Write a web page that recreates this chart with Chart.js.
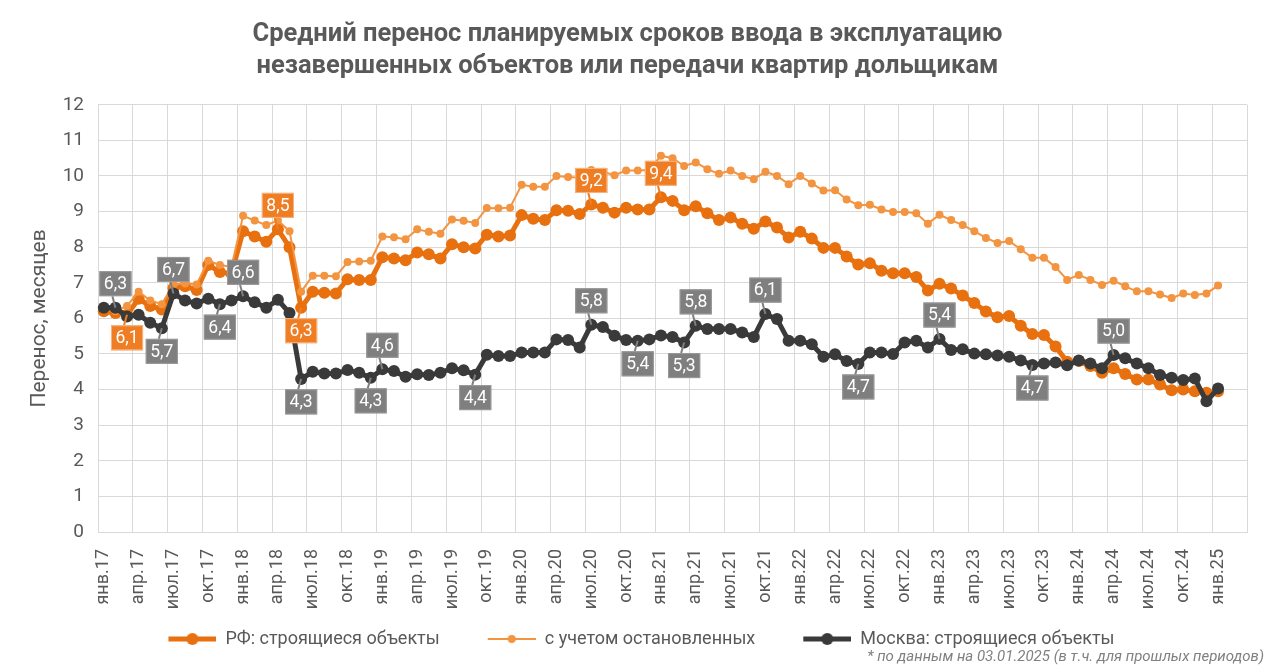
<!DOCTYPE html>
<html lang="ru">
<head>
<meta charset="utf-8">
<title>Средний перенос сроков ввода</title>
<script src="https://cdn.jsdelivr.net/npm/chart.js@4.4.1/dist/chart.umd.min.js"></script>
<style>
  html, body { margin: 0; padding: 0; background: #fff; }
  #wrap { width: 1280px; height: 670px; }
</style>
</head>
<body>
<div id="wrap"><canvas id="chart" width="1280" height="670"></canvas></div>
<script>
// Month names and years for the category axis (янв.17 ... мар.25)
const monthNames = ['янв', 'фев', 'мар', 'апр', 'май', 'июн', 'июл', 'авг', 'сен', 'окт', 'ноя', 'дек'];
const years = ['17', '18', '19', '20', '21', '22', '23', '24', '25'];
const categoryCount = 99; // axis runs two months past the last point

// РФ: строящиеся объекты (янв.17 - янв.25)
const rfValues = [
  6.2, 6.15, 6.1, 6.55, 6.35, 6.25, 6.85, 6.9, 6.8, 7.5, 7.3, 7.25,
  8.45, 8.3, 8.15, 8.5, 8.0, 6.3, 6.75, 6.72, 6.7, 7.1, 7.08, 7.08,
  7.72, 7.68, 7.63, 7.85, 7.8, 7.68, 8.08, 8.0, 7.96, 8.35, 8.3, 8.33,
  8.9, 8.8, 8.76, 9.04, 9.02, 8.93, 9.2, 9.11, 8.97, 9.11, 9.06, 9.06,
  9.4, 9.3, 9.04, 9.15, 8.95, 8.76, 8.83, 8.66, 8.52, 8.72, 8.55, 8.27,
  8.43, 8.24, 7.98, 7.98, 7.74, 7.51, 7.55, 7.34, 7.27, 7.27, 7.16, 6.78,
  6.97, 6.84, 6.64, 6.43, 6.19, 6.03, 6.07, 5.79, 5.56, 5.53, 5.21, 4.78,
  4.8, 4.66, 4.47, 4.6, 4.44, 4.28, 4.28, 4.14, 3.98, 4.0, 3.95, 3.91,
  3.95
];

// с учетом остановленных
const rfStoppedValues = [
  6.25, 6.2, 6.35, 6.75, 6.5, 6.4, 6.95, 6.98, 6.95, 7.62, 7.5, 7.45,
  8.88, 8.75, 8.62, 8.75, 8.45, 6.75, 7.2, 7.2, 7.18, 7.58, 7.6, 7.62,
  8.3, 8.28, 8.22, 8.5, 8.43, 8.38, 8.78, 8.74, 8.68, 9.1, 9.09, 9.11,
  9.75, 9.7, 9.7, 10.0, 9.97, 9.95, 10.17, 10.12, 10.02, 10.15, 10.15, 10.17,
  10.57, 10.5, 10.28, 10.38, 10.19, 10.06, 10.15, 10.0, 9.91, 10.12, 10.0, 9.77,
  10.0, 9.79, 9.59, 9.6, 9.34, 9.18, 9.19, 9.06, 8.99, 8.99, 8.95, 8.66,
  8.91, 8.76, 8.62, 8.45, 8.26, 8.12, 8.17, 7.94, 7.7, 7.7, 7.44, 7.08,
  7.22, 7.08, 6.94, 7.06, 6.9, 6.76, 6.76, 6.67, 6.57, 6.7, 6.66, 6.7,
  6.92
];

// Москва: строящиеся объекты
const moscowValues = [
  6.3, 6.3, 6.05, 6.1, 5.88, 5.72, 6.7, 6.5, 6.42, 6.55, 6.4, 6.5,
  6.62, 6.45, 6.3, 6.52, 6.15, 4.3, 4.5, 4.45, 4.45, 4.55, 4.47, 4.33,
  4.57, 4.52, 4.36, 4.43, 4.41, 4.47, 4.6, 4.54, 4.42, 4.98, 4.94, 4.94,
  5.04, 5.04, 5.04, 5.41, 5.39, 5.18, 5.82, 5.76, 5.51, 5.39, 5.37, 5.41,
  5.52, 5.48, 5.32, 5.79, 5.7, 5.7, 5.7, 5.6, 5.48, 6.12, 5.98, 5.37,
  5.37, 5.27, 4.92, 4.99, 4.8, 4.72, 5.04, 5.04, 5.0, 5.32, 5.37, 5.18,
  5.42, 5.11, 5.13, 5.01, 4.99, 4.96, 4.92, 4.82, 4.69, 4.73, 4.76, 4.68,
  4.82, 4.73, 4.6, 4.97, 4.88, 4.73, 4.6, 4.41, 4.33, 4.27, 4.31, 3.67,
  4.03
];

// Points that carry a value label
const rfLabelAt = [2, 15, 17, 42, 48];
const moscowLabelAt = [1, 5, 6, 10, 12, 17, 23, 24, 32, 42, 46, 50, 51, 57, 65, 72, 80, 87];

const categories = [];
years.forEach(y => monthNames.forEach(m => categories.push(m + '.' + y)));
categories.length = categoryCount;

const COL_RF = '#E8700E';
const COL_STOP = '#F39440';
const COL_MSK = '#3A3A3A';
const TEXT = '#595959';
const GRID = '#D9D9D9';
const FONT = 'Roboto, "Noto Sans", sans-serif';

// label placement: true = above the point
const rfLabelAbove = [false, true, false, true, true];
const moscowLabelAbove = [true, false, true, false, true, false, false, true, false,
  true, false, false, true, true, false, true, false, true];

// Legend icon: a short line with a dot, drawn on a small canvas
function legendIcon(color, lineWidth, radius) {
  const c = document.createElement('canvas');
  c.width = 76;
  c.height = 16;
  const g = c.getContext('2d');
  g.strokeStyle = color;
  g.lineWidth = lineWidth;
  g.beginPath();
  g.moveTo(28, 8);
  g.lineTo(76, 8);
  g.stroke();
  g.fillStyle = color;
  g.beginPath();
  g.arc(52, 8, radius, 0, Math.PI * 2);
  g.fill();
  return c;
}
const legendIcons = [legendIcon(COL_RF, 5, 6), legendIcon(COL_STOP, 2, 4), legendIcon(COL_MSK, 5, 6)];

// Draws the boxed value labels with a short pointer to the point
const calloutPlugin = {
  id: 'callouts',
  afterDatasetsDraw(chart) {
    const ctx = chart.ctx;
    const groups = [
      { ds: 0, at: rfLabelAt, above: rfLabelAbove, values: rfValues, fill: '#EE7D24', stroke: '#F7B583' },
      { ds: 2, at: moscowLabelAt, above: moscowLabelAbove, values: moscowValues, fill: '#7F7F7F', stroke: '#9A9A9A' }
    ];
    ctx.save();
    ctx.font = '17.5px ' + FONT;
    ctx.textAlign = 'center';
    ctx.textBaseline = 'middle';
    groups.forEach(g => {
      const meta = chart.getDatasetMeta(g.ds);
      g.at.forEach((idx, k) => {
        const pt = meta.data[idx];
        const text = g.values[idx].toFixed(1).replace('.', ',');
        const w = ctx.measureText(text).width + 9;
        const h = 25;
        const cy = g.above[k] ? pt.y - 24 : pt.y + 23;
        const edge = g.above[k] ? cy + h / 2 : cy - h / 2;
        // pointer
        ctx.strokeStyle = g.fill;
        ctx.lineWidth = 2;
        ctx.beginPath();
        ctx.moveTo(pt.x - 3, edge);
        ctx.lineTo(pt.x, pt.y);
        ctx.stroke();
        // box
        ctx.fillStyle = g.fill;
        ctx.fillRect(pt.x - w / 2, cy - h / 2, w, h);
        ctx.strokeStyle = g.stroke;
        ctx.lineWidth = 1;
        ctx.strokeRect(pt.x - w / 2 + 0.5, cy - h / 2 + 0.5, w - 1, h - 1);
        ctx.fillStyle = '#FFFFFF';
        ctx.fillText(text, pt.x, cy + 1);
      });
    });
    ctx.restore();
  }
};

// Footnote in the bottom right corner
const footnotePlugin = {
  id: 'footnote',
  afterDraw(chart) {
    const ctx = chart.ctx;
    ctx.save();
    ctx.font = 'italic 15px ' + FONT;
    ctx.fillStyle = '#808080';
    ctx.textAlign = 'right';
    ctx.textBaseline = 'middle';
    ctx.fillText('* по данным на 03.01.2025 (в т.ч. для прошлых периодов)', 1264, 657);
    ctx.restore();
  }
};

const ctx = document.getElementById('chart').getContext('2d');
const chart = new Chart(ctx, {
  type: 'line',
  data: {
    labels: categories,
    datasets: [
      {
        label: 'РФ: строящиеся объекты',
        data: rfValues,
        borderColor: COL_RF,
        backgroundColor: COL_RF,
        borderWidth: 5,
        pointRadius: 6,
        pointBorderWidth: 0,
        order: 2
      },
      {
        label: 'с учетом остановленных',
        data: rfStoppedValues,
        borderColor: COL_STOP,
        backgroundColor: COL_STOP,
        borderWidth: 2,
        pointRadius: 4,
        pointBorderWidth: 0,
        order: 1
      },
      {
        label: 'Москва: строящиеся объекты',
        data: moscowValues,
        borderColor: COL_MSK,
        backgroundColor: COL_MSK,
        borderWidth: 5,
        pointRadius: 6,
        pointBorderWidth: 0,
        order: 0
      }
    ]
  },
  options: {
    responsive: false,
    animation: false,
    events: [],
    layout: { padding: { top: 9, right: 25, bottom: 12, left: 0 } },
    elements: { line: { tension: 0 } },
    scales: {
      x: {
        type: 'category',
        offset: true,
        afterFit: s => { s.height = 78; },
        grid: {
          offset: true,
          drawTicks: false,
          lineWidth: 1,
          color: c => (c.index === undefined || c.index % 3 === 0) ? GRID : 'rgba(0,0,0,0)'
        },
        border: { color: GRID },
        ticks: {
          autoSkip: false,
          minRotation: 90,
          maxRotation: 90,
          padding: 17,
          color: TEXT,
          font: { family: FONT, size: 18 },
          callback: function (val, idx) {
            return idx % 3 === 0 ? this.getLabelForValue(val) : '';
          }
        }
      },
      y: {
        min: 0,
        max: 12,
        afterFit: s => { s.width = 98; },
        grid: { color: GRID, drawTicks: false },
        border: { color: GRID },
        ticks: {
          stepSize: 1,
          padding: 14,
          color: TEXT,
          font: { family: FONT, size: 19 }
        },
        title: {
          display: true,
          text: 'Перенос, месяцев',
          color: TEXT,
          font: { family: FONT, size: 21 },
          padding: { top: 27, bottom: 0 }
        }
      }
    },
    plugins: {
      title: {
        display: true,
        text: ['Средний перенос планируемых сроков ввода в эксплуатацию',
               'незавершенных объектов или передачи квартир дольщикам'],
        color: TEXT,
        font: { family: FONT, size: 25.5, weight: 'bold', lineHeight: 1.25 },
        padding: { top: 10, bottom: 22 }
      },
      legend: {
        position: 'bottom',
        labels: {
          usePointStyle: true,
          pointStyleWidth: 76,
          padding: 20,
          color: TEXT,
          font: { family: FONT, size: 18 },
          generateLabels(chart) {
            const items = Chart.defaults.plugins.legend.labels.generateLabels(chart);
            items.forEach(it => { it.pointStyle = legendIcons[it.datasetIndex]; });
            return items.sort((a, b) => a.datasetIndex - b.datasetIndex);
          }
        }
      },
      tooltip: { enabled: false }
    }
  },
  plugins: [calloutPlugin, footnotePlugin]
});
</script>
</body>
</html>
